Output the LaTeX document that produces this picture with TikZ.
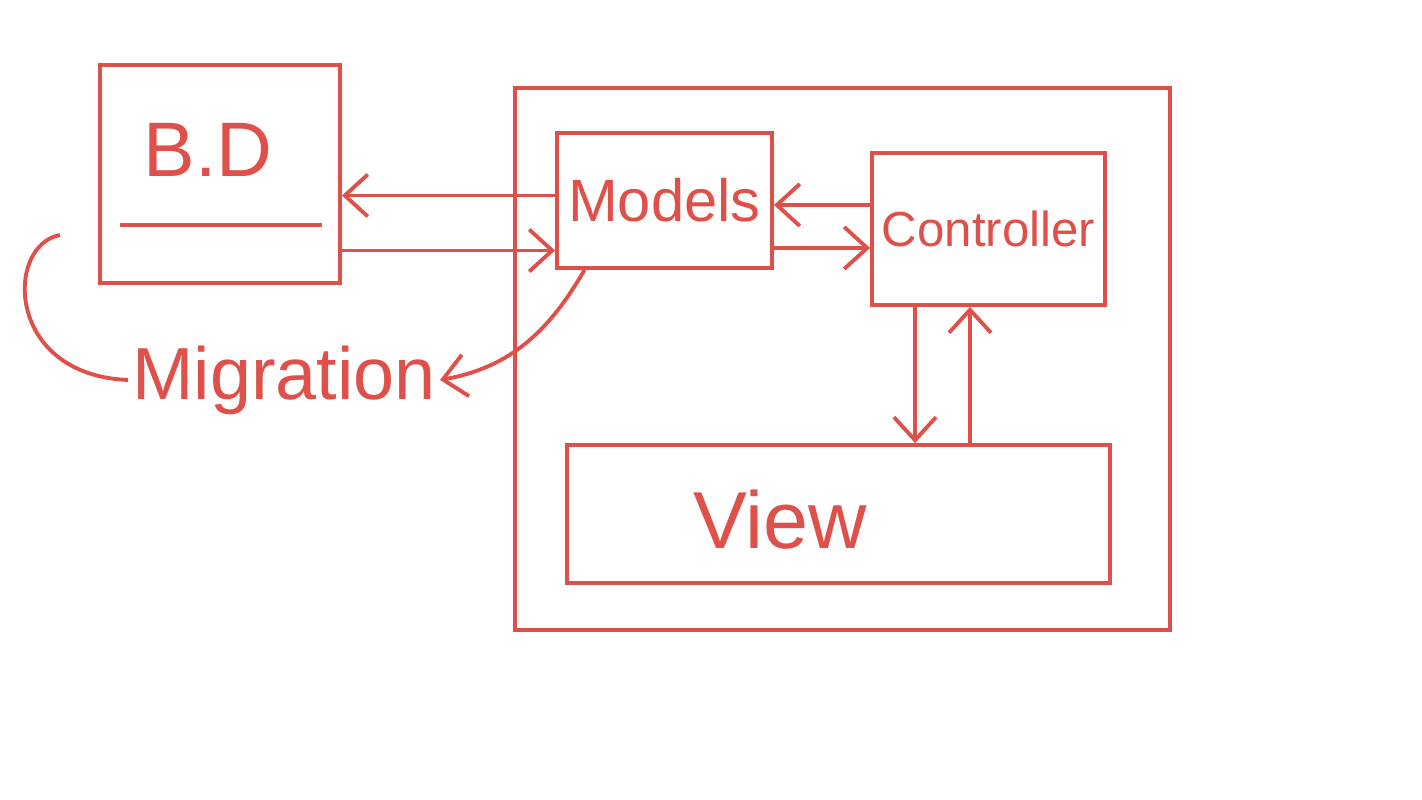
\documentclass[tikz,border=0pt]{standalone}
\usepackage{fontspec}
\setmainfont{Liberation Sans}
\usepackage{xcolor}
\definecolor{sketchred}{HTML}{E0504A}
\usepackage{tikz}
\usetikzlibrary{arrows.meta,positioning,calc}

\begin{document}
\begin{tikzpicture}[
    box/.style={draw=sketchred, line width=1.1pt, minimum width=#1, inner sep=0pt},
    lbl/.style={text=sketchred, inner sep=1pt},
    arr/.style={draw=sketchred, line width=1.1pt, -{Straight Barb[length=2.3mm,width=4.2mm]}},
    wire/.style={draw=sketchred, line width=1.1pt}
  ]
      \useasboundingbox (0,0) rectangle (14.22,-8);
      % database
      \node[box=2.4cm, minimum height=2.18cm] (bd) at (2.2,-1.74) {};
      \node[lbl, font=\fontsize{22}{24}\selectfont] (bdtext) at (2.08,-1.5) {B.D};
      \draw[wire] ($(bd.south west)+(0.22,0.6)$) -- ($(bd.south east)+(-0.2,0.6)$);
      % application
      \node[box=6.55cm, minimum height=5.42cm] (app) at (8.425,-3.59) {};
      \node[box=2.15cm, minimum height=1.35cm, lbl, font=\fontsize{17}{20}\selectfont] (models) at (6.645,-2.005) {Models};
      \node[box=2.33cm, minimum height=1.52cm, lbl, font=\fontsize{14}{17}\selectfont] (ctrl) at (9.885,-2.29) {Controller};
      \node[box=5.43cm, minimum height=1.38cm] (view) at (8.385,-5.14) {};
      \node[lbl, font=\fontsize{23}{27}\selectfont] (viewtext) at (7.8,-5.2) {View};
      \node[lbl, font=\fontsize{21}{25}\selectfont] (migration) at (2.84,-3.8) {Migration};
      \coordinate (hook) at (0.6,-2.35);
      % connectors
      \draw[arr] ([yshift=0.05cm]models.west) -- ([yshift=0.05cm]models.west -| bd.east);
      \draw[arr] ([yshift=-0.5cm]models.west -| bd.east) -- ([yshift=-0.5cm]models.west);
      \draw[arr] ([yshift=0.24cm]ctrl.west) -- ([yshift=0.24cm]ctrl.west -| models.east);
      \draw[arr] ([yshift=-0.19cm]ctrl.west -| models.east) -- ([yshift=-0.19cm]ctrl.west);
      \draw[arr] ([xshift=-0.735cm]ctrl.south) -- ([xshift=-0.735cm]ctrl.south |- view.north);
      \draw[arr] ([xshift=-0.185cm]ctrl.south |- view.north) -- ([xshift=-0.185cm]ctrl.south);
      \draw[arr] ([xshift=-0.8cm]models.south) to[out=-120, in=10] (migration.east);
      \draw[wire] (migration.west) .. controls (0.05,-3.75) and (0.05,-2.45) .. (hook);
    \end{tikzpicture}
\end{document}
